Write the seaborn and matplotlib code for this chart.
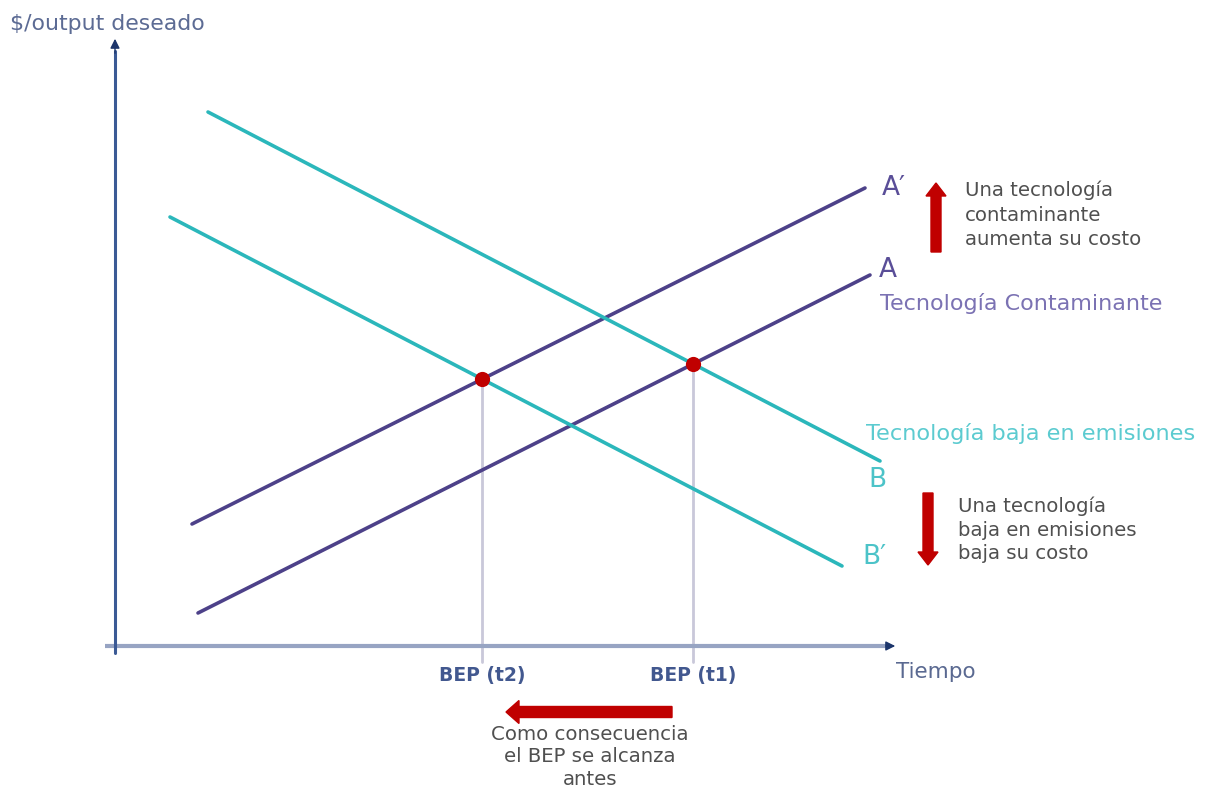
import numpy as np
import pandas as pd
import matplotlib
matplotlib.use("Agg")
import matplotlib.pyplot as plt
import seaborn as sns

# ---- data (diagram units: time on x, cost per output on y) ----
line_names = ["A", "A'", "B", "B'"]
line_t_start = [8.3, 7.7, 9.3, 5.5]
line_t_end = [75.5, 75.0, 76.5, 72.7]
line_c_start = [3.3, 12.2, 53.4, 42.9]
line_c_end = [37.1, 45.8, 18.5, 8.0]
bep_labels = ["BEP (t1)", "BEP (t2)"]
bep_pairs = [("A", "B"), ("A'", "B'")]

sns.set_theme(style="white")
plt.rcParams['font.family'] = ['DejaVu Sans']

PURPLE = "#4d4189"
TEAL = "#2bb7bb"
RED = "#c00000"
line_colors = {"A": PURPLE, "A'": PURPLE, "B": TEAL, "B'": TEAL}

rows = []
for n, t0, t1, c0, c1 in zip(line_names, line_t_start, line_t_end, line_c_start, line_c_end):
    rows.append({"name": n, "t": t0, "c": c0})
    rows.append({"name": n, "t": t1, "c": c1})
df = pd.DataFrame(rows)

fig = plt.figure(figsize=(12.07, 7.91), dpi=100)
ax = fig.add_axes([0, 0, 1, 1])

# intersections (BEP)
def line_params(n):
    i = line_names.index(n)
    m = (line_c_end[i] - line_c_start[i]) / (line_t_end[i] - line_t_start[i])
    b = line_c_start[i] - m * line_t_start[i]
    return m, b

bep_t, bep_c = [], []
for p, q in bep_pairs:
    m1, b1 = line_params(p)
    m2, b2 = line_params(q)
    t = (b2 - b1) / (m1 - m2)
    bep_t.append(t)
    bep_c.append(m1 * t + b1)

# drop lines
for t, c in zip(bep_t, bep_c):
    ax.plot([t, t], [c, -1.6], color="#c9c8d9", lw=2.0, zorder=1)

# axes arrows
ax.plot([-1.0, 77.5], [0, 0], color="#97a4c3", lw=3, zorder=2, solid_capstyle="butt")
ax.annotate("", xy=(78.3, 0), xytext=(76.8, 0),
            arrowprops=dict(arrowstyle="-|>", color="#1c356b", lw=1, mutation_scale=14), zorder=3)
ax.plot([0, 0], [-0.7, 59.5], color="#3b5a95", lw=2.2, zorder=2)
ax.annotate("", xy=(0, 61.0), xytext=(0, 59.0),
            arrowprops=dict(arrowstyle="-|>", color="#1c356b", lw=1, mutation_scale=14), zorder=3)

sns.lineplot(data=df, x="t", y="c", hue="name", units="name", estimator=None,
             palette=line_colors, lw=2.6, legend=False, ax=ax, sort=False, zorder=4)

sns.scatterplot(x=bep_t, y=bep_c, color=RED, s=120, edgecolor=RED, linewidth=0, ax=ax, zorder=5)

ax.set_xlim(-11.5, 109.2)
ax.set_ylim(-14.5, 64.6)
ax.axis("off")

# line end labels
ax.text(76.7, 45.8, "A\u2032", color="#5a4e98", fontsize=19, va="center", ha="left")
ax.text(76.4, 37.6, "A", color="#5a4e98", fontsize=19, va="center", ha="left")
ax.text(76.5, 34.3, "Tecnología Contaminante", color="#7b72b3", fontsize=16, va="center", ha="left")
ax.text(75.1, 21.3, "Tecnología baja en emisiones", color="#5ccbd0", fontsize=16.2, va="center", ha="left")
ax.text(75.3, 16.6, "B", color="#4cc3c8", fontsize=19, va="center", ha="left")
ax.text(74.7, 8.9, "B\u2032", color="#4cc3c8", fontsize=19, va="center", ha="left")

# axis labels
ax.text(-10.5, 62.2, "\\$/output deseado", color="#5c6b94", fontsize=15.8, va="center", ha="left")
ax.text(78.1, -2.6, "Tiempo", color="#5a6991", fontsize=15.5, va="center", ha="left")
for t, lab in zip(bep_t, bep_labels):
    ax.text(t, -3.0, lab, color="#42588f", fontsize=13.5, fontweight="semibold", va="center", ha="center")

# red arrows
ax.arrow(82.1, 39.4, 0, 6.9, width=1.0, head_width=2.0, head_length=1.3,
         length_includes_head=True, color=RED, zorder=6)
ax.arrow(81.3, 15.3, 0, -7.2, width=1.0, head_width=2.0, head_length=1.3,
         length_includes_head=True, color=RED, zorder=6)
ax.arrow(55.7, -6.6, -16.6, 0, width=1.1, head_width=2.3, head_length=1.3,
         length_includes_head=True, color=RED, zorder=6)

ann_kw = dict(color="#505050", fontsize=14.2)
ax.text(85.0, 43.1, "Una tecnología\ncontaminante\naumenta su costo", va="center", ha="left",
        linespacing=1.36, **ann_kw)
ax.text(84.3, 11.6, "Una tecnología\nbaja en emisiones\nbaja su costo", va="center", ha="left",
        linespacing=1.31, **ann_kw)
ax.text(47.5, -11.1, "Como consecuencia\nel BEP se alcanza\nantes", va="center", ha="center",
        linespacing=1.26, **ann_kw)

fig.savefig("out.png", dpi=100)
